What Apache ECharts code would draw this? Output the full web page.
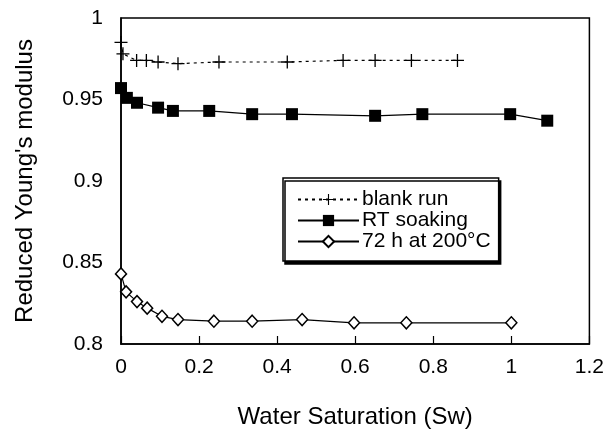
<!DOCTYPE html>
<html>
<head>
<meta charset="utf-8">
<script src="https://cdn.jsdelivr.net/npm/echarts@6/dist/echarts.min.js"></script>
<style>html,body{margin:0;padding:0;background:#fff}#c{width:607px;height:438px}</style>
</head>
<body>
<div id="c"></div>
<script>
const blankX = [0, 0.005, 0.04, 0.065, 0.095, 0.146, 0.251, 0.426, 0.569, 0.651, 0.744, 0.862];
const blankY = [0.985, 0.978, 0.974, 0.974, 0.973, 0.972, 0.973, 0.973, 0.974, 0.974, 0.974, 0.974];
const rtX = [0, 0.015, 0.041, 0.095, 0.133, 0.226, 0.336, 0.438, 0.651, 0.772, 0.997, 1.092];
const rtY = [0.957, 0.951, 0.948, 0.945, 0.943, 0.943, 0.941, 0.941, 0.940, 0.941, 0.941, 0.937];
const hotX = [0, 0.013, 0.041, 0.067, 0.105, 0.146, 0.238, 0.336, 0.464, 0.597, 0.731, 1.0];
const hotY = [0.843, 0.832, 0.826, 0.822, 0.817, 0.815, 0.814, 0.814, 0.815, 0.813, 0.813, 0.813];
const seriesNames = ['blank run', 'RT soaking', '72 h at 200°C'];
const xTitle = 'Water Saturation (Sw)';
const yTitle = "Reduced Young's modulus";

const zip = (a, b) => a.map((v, i) => [v, b[i]]);
const FONT = 'Liberation Sans, Arial, Helvetica, sans-serif';
const chart = echarts.init(document.getElementById('c'), null, {renderer: 'canvas'});
chart.setOption({
  backgroundColor: '#fff',
  animation: false,
  grid: {left: 121, right: 16, top: 18, bottom: 94, show: true, borderColor: '#000', borderWidth: 1.5, backgroundColor: 'transparent'},
  xAxis: {
    type: 'value', min: 0, max: 1.2, interval: 0.2,
    name: xTitle, nameLocation: 'middle', nameGap: 61,
    nameTextStyle: {fontFamily: FONT, fontSize: 24, color: '#000'},
    axisLine: {show: true, lineStyle: {color: '#000', width: 1.5}},
    axisTick: {show: true, inside: true, length: 8, lineStyle: {color: '#000', width: 1.2}},
    axisLabel: {fontFamily: FONT, fontSize: 21, color: '#000', margin: 13,
      formatter: v => String(+v.toFixed(2))},
    splitLine: {show: false}
  },
  yAxis: {
    type: 'value', min: 0.8, max: 1, interval: 0.05,
    name: yTitle, nameLocation: 'middle', nameGap: 84, nameRotate: 90,
    nameTextStyle: {fontFamily: FONT, fontSize: 24, color: '#000'},
    axisLine: {show: true, lineStyle: {color: '#000', width: 1.5}},
    axisTick: {show: false},
    axisLabel: {fontFamily: FONT, fontSize: 21, color: '#000', margin: 18,
      formatter: v => String(+v.toFixed(2))},
    splitLine: {show: false}
  },
  legend: {
    left: 283, top: 178, orient: 'vertical',
    padding: [11, 8, 9, 14],
    itemWidth: 61, itemHeight: 14, itemGap: 0,
    backgroundColor: '#fff', borderColor: '#000', borderWidth: 1.5,
    shadowColor: '#000', shadowBlur: 0, shadowOffsetX: 2, shadowOffsetY: 3,
    textStyle: {fontFamily: FONT, fontSize: 21, color: '#000', padding: [0, 0, 0, -2]},
    data: seriesNames
  },
  series: [
    {
      name: seriesNames[0], type: 'line', data: zip(blankX, blankY),
      symbol: 'path://M9,0h2v20h-2zM0,9h20v2h-20z', symbolSize: 13, symbolKeepAspect: true,
      itemStyle: {color: '#000'},
      lineStyle: {color: '#000', width: 1.2, type: [3, 4]}
    },
    {
      name: seriesNames[1], type: 'line', data: zip(rtX, rtY),
      symbol: 'rect', symbolSize: 12,
      itemStyle: {color: '#000'},
      lineStyle: {color: '#000', width: 1.2}
    },
    {
      name: seriesNames[2], type: 'line', data: zip(hotX, hotY),
      symbol: 'diamond', symbolSize: [11, 12],
      itemStyle: {color: '#fff', borderColor: '#000', borderWidth: 1.5},
      lineStyle: {color: '#000', width: 1.2}
    }
  ]
});
</script>
</body>
</html>
